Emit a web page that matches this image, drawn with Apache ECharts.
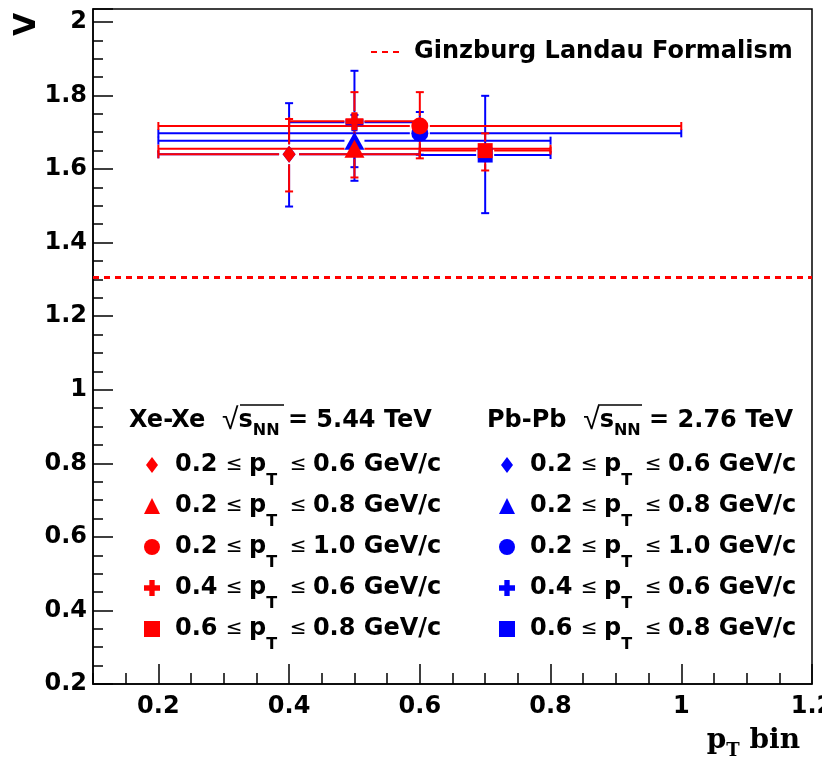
<!DOCTYPE html>
<html><head><meta charset="utf-8">
<script src="https://cdn.jsdelivr.net/npm/echarts@6/dist/echarts.min.js"></script>
<style>html,body{margin:0;padding:0;background:#fff}#c{width:822px;height:768px}</style>
</head><body><div id="c"></div>
<script>
// ---- data ----
const binLabels = ['0.2-0.6', '0.2-0.8', '0.2-1.0', '0.4-0.6', '0.6-0.8'];
const ptLow  = [0.2, 0.2, 0.2, 0.4, 0.6];
const ptHigh = [0.6, 0.8, 1.0, 0.6, 0.8];
const xeValues   = [1.640, 1.655, 1.717, 1.730, 1.650];
const xeErrUp    = [0.096, 0.078, 0.092, 0.079, 0.047];
const xeErrDown  = [0.101, 0.078, 0.088, 0.080, 0.054];
const pbValues   = [1.640, 1.677, 1.697, 1.727, 1.638];
const pbErrUp    = [0.139, 0.070, 0.058, 0.140, 0.161];
const pbErrDown  = [0.142, 0.072, 0.058, 0.159, 0.158];
const glValue = 1.305;
const xMin = 0.1, xMax = 1.2;
const yMin = 0.2, yMax = 2.035;
const xTickValues = [0.2, 0.4, 0.6, 0.8, 1.0, 1.2];

// ---- style ----
const F = 'DejaVu Sans, Liberation Sans, sans-serif';
const FS = 'DejaVu Serif, Liberation Serif, serif';
const RED = '#ff0000', BLUE = '#0000ff';
const symbols = ['path://M0,-4L3,0L0,4L-3,0Z', 'triangle', 'circle',
  'path://M-1,-3H1V-1H3V1H1V3H-1V1H-3V-1H-1Z', 'rect'];
const symSizes = [[13, 17], [20, 18], [17, 17], [18, 18], [15, 15]];
const gaps = [10, 10, 10, 10, 9];

function errBarSeries(name, color, i, v, up, dn) {
  const mid = (ptLow[i] + ptHigh[i]) / 2;
  return {
    type: 'custom', name: name, silent: true,
    data: [[mid, v, ptLow[i], ptHigh[i], v - dn, v + up]],
    encode: { x: 0, y: 1 },
    renderItem: function (params, api) {
      const c = api.coord([api.value(0), api.value(1)]);
      const l = api.coord([api.value(2), api.value(1)]);
      const r = api.coord([api.value(3), api.value(1)]);
      const b = api.coord([api.value(0), api.value(4)]);
      const t = api.coord([api.value(0), api.value(5)]);
      const g = gaps[i], cap = 4;
      const st = { stroke: color, lineWidth: 2 };
      const ch = [];
      const L = (x1, y1, x2, y2) => ch.push({ type: 'line', shape: { x1, y1, x2, y2 }, style: st });
      if (l[0] < c[0] - g) L(l[0], c[1], c[0] - g, c[1]);
      if (r[0] > c[0] + g) L(c[0] + g, c[1], r[0], c[1]);
      L(l[0], c[1] - cap, l[0], c[1] + cap);
      L(r[0], c[1] - cap, r[0], c[1] + cap);
      if (t[1] < c[1] - g) { L(c[0], t[1], c[0], c[1] - g); L(c[0] - cap, t[1], c[0] + cap, t[1]); }
      if (b[1] > c[1] + g) { L(c[0], c[1] + g, c[0], b[1]); L(c[0] - cap, b[1], c[0] + cap, b[1]); }
      return { type: 'group', children: ch };
    }
  };
}

const series = [];
series.push({
  type: 'line', name: 'Ginzburg Landau Formalism', symbol: 'circle', showSymbol: false, silent: true,
  data: [[xMin, glValue], [xMax, glValue]],
  lineStyle: { color: RED, type: [6, 5], width: 3, opacity: 1 }, itemStyle: { color: RED, opacity: 0 }
});
const pbNames = [], xeNames = [];
[['Pb-Pb', pbValues, pbErrUp, pbErrDown, BLUE, pbNames], ['Xe-Xe', xeValues, xeErrUp, xeErrDown, RED, xeNames]].forEach(d => {
  const [sys, vals, up, dn, color, names] = d;
  for (let i = 0; i < vals.length; i++) {
    const nm = sys + ' ' + binLabels[i];
    names.push(nm);
    series.push(errBarSeries(nm + ' err', color, i, vals[i], up[i], dn[i]));
    series.push({
      type: 'scatter', name: nm, silent: true,
      data: [[(ptLow[i] + ptHigh[i]) / 2, vals[i]]],
      symbol: symbols[i], symbolSize: symSizes[i],
      itemStyle: { color: color, opacity: 1 }
    });
  }
});

const legendRich = {
  n: { fontFamily: F, fontSize: 24, fontWeight: 'bold', color: '#000', lineHeight: 28 },
  o: { fontFamily: F, fontSize: 20, color: '#000', lineHeight: 28 },
  s: { fontFamily: F, fontSize: 16, fontWeight: 'bold', color: '#000', lineHeight: 16, padding: [32, 0, 0, 0] }
};
function legendFmt(name) {
  const idx = name.indexOf(' ');
  const bin = name.slice(idx + 1);
  const i = binLabels.indexOf(bin);
  return '{n|' + ptLow[i].toFixed(1) + ' }{o|≤ }{n|p}{s|T}{o|  ≤ }{n|' + ptHigh[i].toFixed(1) + ' GeV/c}';
}
function legendCfg(names, left) {
  return {
    data: names, orient: 'vertical', left: left, top: 436, itemWidth: 16, itemHeight: 16,
    itemGap: -7, selectedMode: false, formatter: legendFmt,
    textStyle: { rich: legendRich, fontFamily: F, fontSize: 24, color: '#000', padding: [0, 0, 0, 10] }
  };
}
const headRich = {
  b: { fontFamily: F, fontSize: 24, fontWeight: 'bold', color: '#000', lineHeight: 28 },
  r: { fontFamily: 'Liberation Sans, sans-serif', fontSize: 30, color: '#000', lineHeight: 28 },
  sn: { fontFamily: F, fontSize: 16, fontWeight: 'bold', color: '#000', lineHeight: 14, padding: [20, 0, 0, 0] }
};

const option = {
  animation: false,
  backgroundColor: '#fff',
  grid: { left: 93, right: 10, top: 9, bottom: 84, show: true, borderColor: '#000', borderWidth: 1.5,
    backgroundColor: 'transparent', containLabel: false, outerBoundsMode: 'none' },
  xAxis: [{
    type: 'value', min: xMin, max: xMax, interval: 0.05,
    axisLine: { lineStyle: { color: '#000', width: 1.5 } },
    axisTick: { show: true, inside: true, length: 20, customValues: xTickValues, lineStyle: { color: '#000', width: 1.5 } },
    axisLabel: { customValues: xTickValues, fontFamily: F, fontSize: 24, fontWeight: 'bold', color: '#000', margin: 11 },
    splitLine: { show: false },
    name: '{a|p}{s|T}{a| bin}', nameLocation: 'end', nameGap: 0,
    nameTextStyle: {
      align: 'right', verticalAlign: 'top', padding: [42, 12, 0, 0],
      rich: {
        a: { fontFamily: FS, fontSize: 28, fontWeight: 'bold', color: '#000', lineHeight: 30 },
        s: { fontFamily: FS, fontSize: 18, fontWeight: 'bold', color: '#000', lineHeight: 18, padding: [20, 0, 0, 0] }
      }
    }
  }, {
    type: 'value', min: xMin, max: xMax, interval: 0.05, position: 'bottom',
    axisLine: { show: false },
    axisTick: { show: true, inside: true, length: 11, lineStyle: { color: '#000', width: 1.5 } },
    axisLabel: { show: false }, splitLine: { show: false }
  }],
  yAxis: {
    type: 'value', min: yMin, max: yMax, interval: 0.2,
    axisLine: { show: true, lineStyle: { color: '#000', width: 1.5 } },
    axisTick: { show: true, inside: true, length: 20, lineStyle: { color: '#000', width: 1.5 } },
    minorTick: { show: true, splitNumber: 4, length: 10, lineStyle: { color: '#000', width: 1.5 } },
    axisLabel: { fontFamily: F, fontSize: 24, fontWeight: 'bold', color: '#000', margin: 6, showMaxLabel: false },
    splitLine: { show: false }
  },
  legend: [
    {
      data: ['Ginzburg Landau Formalism'], left: 365, top: 35, itemWidth: 32, itemHeight: 14, selectedMode: false,
      textStyle: { fontFamily: F, fontSize: 24, fontWeight: 'bold', color: '#000', padding: [0, 0, 0, 6] }
    },
    legendCfg(xeNames, 139),
    legendCfg(pbNames, 494)
  ],
  graphic: [
    { type: 'text', x: 12, y: 36, rotation: Math.PI / 2, style: { text: 'V', fontFamily: F, fontSize: 30, fontWeight: 'bold', fill: '#000', align: 'left', verticalAlign: 'top' } },
    { type: 'text', x: 129, y: 421, style: { text: '{b|Xe-Xe  }{r|√}{b|s}{sn|NN}{b| = 5.44 TeV}', rich: headRich, verticalAlign: 'middle', align: 'left' } },
    { type: 'line', shape: { x1: 240, y1: 405, x2: 284, y2: 405 }, style: { stroke: '#000', lineWidth: 1.5 } },
    { type: 'text', x: 487, y: 421, style: { text: '{b|Pb-Pb  }{r|√}{b|s}{sn|NN}{b| = 2.76 TeV}', rich: headRich, verticalAlign: 'middle', align: 'left' } },
    { type: 'line', shape: { x1: 598, y1: 405, x2: 642, y2: 405 }, style: { stroke: '#000', lineWidth: 1.5 } }
  ],
  series: series
};
const chart = echarts.init(document.getElementById('c'), null, { renderer: 'canvas' });
chart.setOption(option);
</script></body></html>
